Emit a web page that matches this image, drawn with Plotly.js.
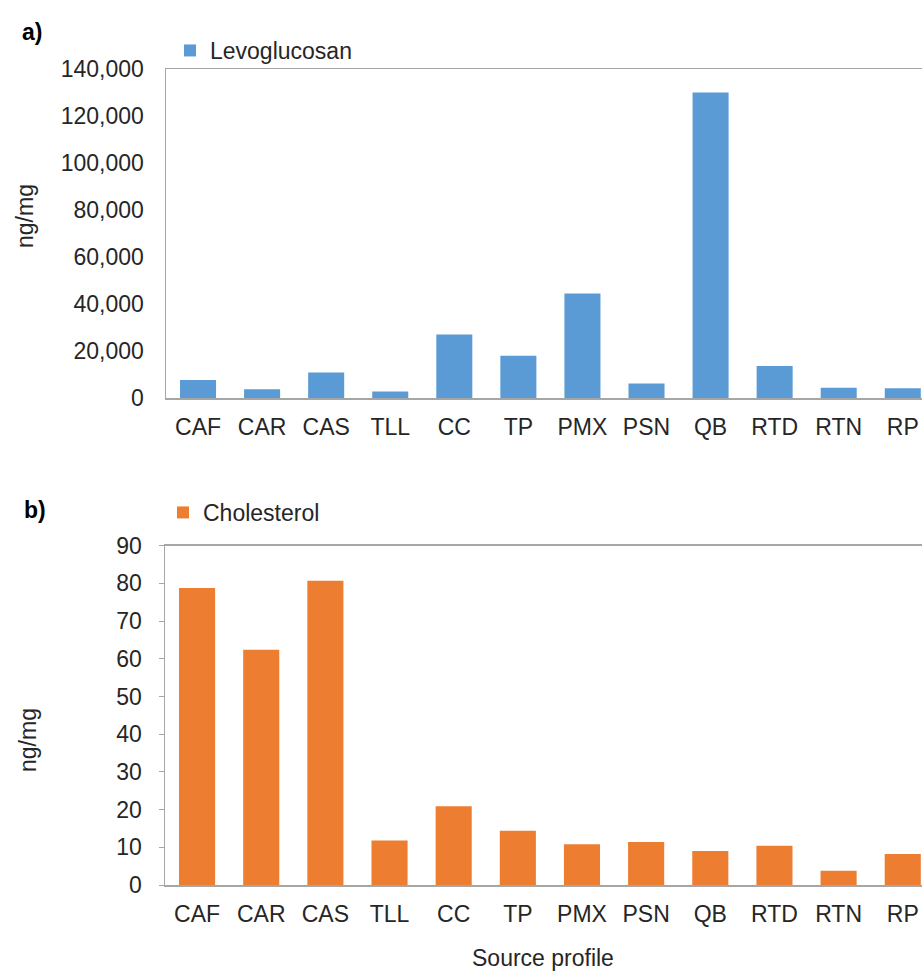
<!DOCTYPE html>
<html>
<head>
<meta charset="utf-8">
<script src="https://cdn.plot.ly/plotly-3.0.1.min.js"></script>
<style>html,body{margin:0;padding:0;background:#fff;}</style>
</head>
<body>
<div id="chart" style="width:922px;height:972px;"></div>
<script>
// ---- data ----
var categories = ["CAF","CAR","CAS","TLL","CC","TP","PMX","PSN","QB","RTD","RTN","RP"];
var levoglucosan = [7700, 3700, 10900, 2800, 27000, 18000, 44500, 6200, 130000, 13600, 4400, 4100];
var cholesterol = [78.8, 62.4, 80.7, 11.8, 20.9, 14.4, 10.8, 11.4, 9.0, 10.4, 3.8, 8.2];
var levoTicks = [0, 20000, 40000, 60000, 80000, 100000, 120000, 140000];
var cholTicks = [0, 10, 20, 30, 40, 50, 60, 70, 80, 90];

var FONT = "Liberation Sans, Arial, sans-serif";
var TXT = "#262626";
var LINE = "#A6A6A6";
var W = 922, H = 972;
function px(x){ return x / W; }
function py(y){ return 1 - y / H; }

var traces = [
  {type:"bar", x:categories, y:levoglucosan, name:"Levoglucosan",
   marker:{color:"#5B9BD5"}, xaxis:"x", yaxis:"y", legend:"legend"},
  {type:"bar", x:categories, y:cholesterol, name:"Cholesterol",
   marker:{color:"#ED7D31"}, xaxis:"x2", yaxis:"y2", legend:"legend2"}
];

var axFont = {family:FONT, size:23, color:TXT};

var layout = {
  width:W, height:H,
  margin:{l:0, r:0, t:0, b:0},
  paper_bgcolor:"#fff", plot_bgcolor:"#fff",
  bargap:0.4375,
  showlegend:true,
  font:{family:FONT, color:TXT},
  xaxis:{domain:[px(166), 1], anchor:"y", type:"category", range:[-0.5, 11.3],
    showline:true, mirror:true, linecolor:LINE, linewidth:1.5, ticks:"",
    showgrid:false, tickfont:axFont, ticklabelstandoff:8, fixedrange:true},
  yaxis:{domain:[py(398), py(69)], anchor:"x", range:[0, 140000],
    tickvals:levoTicks, tickformat:",d", showline:true, linecolor:LINE, linewidth:1.5,
    showgrid:false, zeroline:false, ticks:"", tickfont:axFont, ticklabelstandoff:16},
  xaxis2:{domain:[px(165), 1], anchor:"y2", type:"category", range:[-0.5, 11.3],
    showline:true, mirror:true, linecolor:LINE, linewidth:1.5, ticks:"",
    showgrid:false, tickfont:axFont, ticklabelstandoff:8},
  yaxis2:{domain:[py(885), py(545.7)], anchor:"x2", range:[0, 90],
    tickvals:cholTicks, showline:true, linecolor:LINE, linewidth:1.5,
    showgrid:false, zeroline:false, ticks:"outside", ticklen:5, tickcolor:LINE,
    tickfont:axFont, ticklabelstandoff:12},
  legend:{x:px(170), xanchor:"left", y:py(29), yanchor:"top", bgcolor:"rgba(0,0,0,0)",
    font:{family:FONT, size:23, color:TXT}, itemwidth:30, borderwidth:0},
  legend2:{x:px(163), xanchor:"left", y:py(491), yanchor:"top", bgcolor:"rgba(0,0,0,0)",
    font:{family:FONT, size:23, color:TXT}, itemwidth:30, borderwidth:0},
  annotations:[
    {text:"<b>a)</b>", xref:"paper", yref:"paper", x:px(20), y:py(32), xanchor:"left", yanchor:"middle",
     showarrow:false, font:{family:FONT, size:23, color:"#000"}},
    {text:"<b>b)</b>", xref:"paper", yref:"paper", x:px(22), y:py(510), xanchor:"left", yanchor:"middle",
     showarrow:false, font:{family:FONT, size:23, color:"#000"}},
    {text:"ng/mg", xref:"paper", yref:"paper", x:px(25), y:py(216), xanchor:"center", yanchor:"middle",
     textangle:-90, showarrow:false, font:{family:FONT, size:23, color:TXT}},
    {text:"ng/mg", xref:"paper", yref:"paper", x:px(28), y:py(740), xanchor:"center", yanchor:"middle",
     textangle:-90, showarrow:false, font:{family:FONT, size:23, color:TXT}},
    {text:"Source profile", xref:"paper", yref:"paper", x:px(543), y:py(958), xanchor:"center", yanchor:"middle",
     showarrow:false, font:{family:FONT, size:23, color:TXT}}
  ]
};

Plotly.newPlot("chart", traces, layout, {staticPlot:true, displayModeBar:false});
</script>
</body>
</html>
